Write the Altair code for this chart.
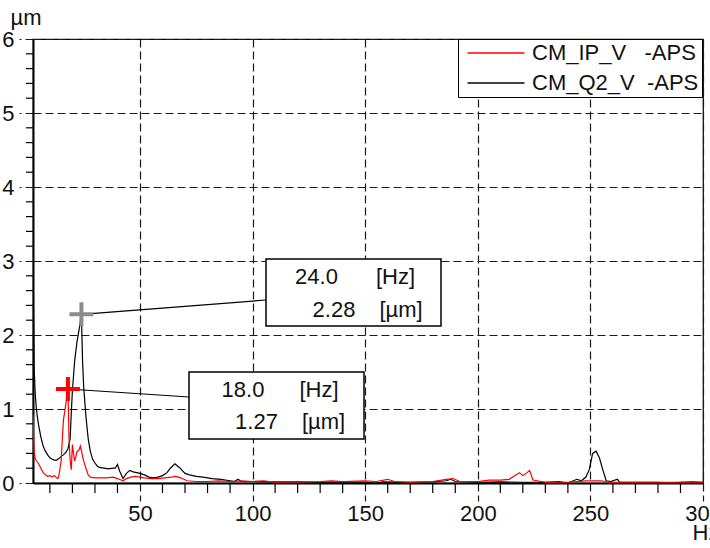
import altair as alt
import pandas as pd

# ---------------- data ----------------
series_names = ["CM_IP_V\u00a0\u00a0\u00a0-APS", "CM_Q2_V\u00a0\u00a0-APS"]
series_colors = ["#ff0000", "#000000"]

freq_ip = [2.5, 3.0, 3.5, 4.0, 5.0, 6.0, 7.0, 8.0, 9.0, 10.0, 11.0, 12.0, 13.0, 13.5, 14.0,
           15.0, 16.0, 17.0, 18.0, 18.5, 19.0, 19.5, 20.0, 20.5, 21.0, 21.5, 22.0, 23.0, 23.5,
           24.0, 24.5, 25.0, 26.0, 27.0, 28.0, 30.0, 32.0, 35.0, 38.0, 40.0, 42.5, 44.0, 46.0,
           48.0, 50.0, 52.0, 55.0, 58.0, 61.0, 64.0, 66.0, 68.0, 71.0, 75.0, 80.0, 85.0, 90.0,
           95.0, 100.0, 105.0, 110.0, 120.0, 130.0, 135.0, 140.0, 150.0, 155.0, 160.0, 163.0,
           170.0, 180.0, 186.0, 189.0, 192.0, 200.0, 205.0, 210.0, 214.0, 216.0, 218.5, 220.0,
           221.5, 223.0, 224.5, 230.0, 240.0, 248.0, 255.0, 258.0, 270.0, 300.0]
amp_ip = [0.92, 0.42, 0.33, 0.30, 0.26, 0.20, 0.14, 0.11, 0.09, 0.10, 0.08, 0.10, 0.07, 0.06, 0.10,
          0.30, 0.85, 1.05, 1.27, 0.60, 0.30, 0.18, 0.52, 0.40, 0.30, 0.35, 0.42, 0.45, 0.50,
          0.44, 0.36, 0.30, 0.20, 0.11, 0.08, 0.07, 0.07, 0.07, 0.08, 0.06, 0.03, 0.06, 0.08,
          0.09, 0.08, 0.07, 0.06, 0.06, 0.07, 0.08, 0.09, 0.07, 0.03, 0.02, 0.02, 0.03, 0.02,
          0.03, 0.02, 0.03, 0.01, 0.015, 0.02, 0.03, 0.02, 0.03, 0.02, 0.05, 0.02,
          0.01, 0.02, 0.05, 0.06, 0.02, 0.02, 0.04, 0.04, 0.05, 0.09, 0.14, 0.10,
          0.13, 0.17, 0.04, 0.01, 0.01, 0.03, 0.03, 0.01, 0.01, 0.01]

freq_q2 = [2.5, 3.0, 3.5, 4.0, 4.5, 5.0, 6.0, 7.0, 8.0, 9.0, 10.0, 11.0, 12.0, 13.0, 14.0, 15.0,
           16.0, 17.0, 18.0, 19.0, 19.5, 20.0, 20.5, 21.0, 22.0, 23.0, 24.0, 24.5, 25.0, 26.0,
           27.0, 28.0, 29.0, 30.0, 31.0, 32.0, 34.0, 36.0, 38.0, 39.0, 40.0, 41.0, 42.5, 44.0,
           45.5, 47.0, 48.5, 50.0, 52.0, 54.0, 56.0, 58.0, 60.0, 62.0, 63.5, 65.5, 67.5, 70.0,
           72.0, 75.0, 78.0, 82.0, 86.0, 90.0, 92.0, 93.5, 95.0, 100.0, 110.0, 120.0, 130.0,
           140.0, 150.0, 155.0, 158.0, 170.0, 180.0, 186.0, 188.0, 190.0, 200.0, 210.0, 220.0,
           230.0, 236.0, 240.0, 244.0, 246.0, 248.0, 249.5, 251.0, 252.5, 254.0, 255.5, 257.0,
           259.0, 262.0, 263.0, 270.0, 280.0, 285.0, 290.0, 295.0, 300.0]
amp_q2 = [3.15, 1.55, 1.20, 1.00, 0.88, 0.78, 0.62, 0.50, 0.43, 0.38, 0.34, 0.32, 0.31, 0.31, 0.33, 0.36,
          0.38, 0.41, 0.46, 0.60, 0.95, 1.25, 1.45, 1.65, 1.90, 2.08, 2.28, 1.65, 1.30, 0.90,
          0.60, 0.42, 0.32, 0.27, 0.23, 0.21, 0.20, 0.19, 0.20, 0.20, 0.25, 0.16, 0.06, 0.13,
          0.17, 0.15, 0.14, 0.13, 0.11, 0.08, 0.07, 0.08, 0.10, 0.14, 0.20, 0.26, 0.21, 0.13,
          0.11, 0.09, 0.08, 0.06, 0.05, 0.03, 0.02, 0.05, 0.02, 0.02, 0.015, 0.015, 0.01,
          0.015, 0.01, 0.0, 0.015, 0.01, 0.015, 0.03, 0.05, 0.02, 0.01, 0.015, 0.01,
          0.01, 0.02, 0.0, 0.05, 0.03, 0.08, 0.18, 0.40, 0.43, 0.34, 0.18, 0.03,
          0.02, 0.05, 0.01, 0.01, 0.01, 0.0, 0.01, 0.015, 0.01]

cursor_freq = [18.0, 24.0]
cursor_amp = [1.27, 2.28]
cursor_colors = ["#ff0000", "#8c8c8c"]

x_ticks = [50, 100, 150, 200, 250, 300]
y_ticks = [0, 1, 2, 3, 4, 5, 6]
x_minor = [10, 20, 30, 40, 60, 70, 80, 90, 110, 120, 130, 140, 160, 170, 180, 190,
           210, 220, 230, 240, 260, 270, 280, 290]
y_minor = [0.2, 0.4, 0.6, 0.8, 1.2, 1.4, 1.6, 1.8, 2.2, 2.4, 2.6, 2.8, 3.2, 3.4, 3.6, 3.8,
           4.2, 4.4, 4.6, 4.8, 5.2, 5.4, 5.6, 5.8]

# ---------------- layout (pixels) ----------------
FONT = "Liberation Sans"
FS = 22
W, H = 670, 444

xs = alt.Scale(domain=[2.5, 300], nice=False, zero=False)
ys = alt.Scale(domain=[0, 6], nice=False, zero=False)
cs = alt.Scale(domain=series_names, range=series_colors)

df_ip = pd.DataFrame({"freq": freq_ip, "amp": amp_ip, "series": series_names[0]})
df_q2 = pd.DataFrame({"freq": freq_q2, "amp": amp_q2, "series": series_names[1]})

x_axis = alt.Axis(values=x_ticks, grid=True, gridDash=[8, 4], gridColor="#1a1a1a", gridWidth=1.2,
                  tickSize=18, tickDash=[8, 4], tickColor="#1a1a1a", tickWidth=1.2,
                  domainColor="black", domainWidth=2, labelFont=FONT, labelFontSize=FS,
                  labelColor="#111", labelPadding=2, labelFlush=False, labelOverlap=False,
                  title="Hz", titleFont=FONT, titleFontSize=FS, titleFontWeight="normal",
                  titleColor="#111", titleX=659, titleY=49, titleAlign="left",
                  titleBaseline="middle", titleAnchor="start")
y_axis = alt.Axis(values=y_ticks, format="d", grid=True, gridDash=[8, 4], gridColor="#1a1a1a",
                  gridWidth=1.2, tickSize=14, tickDash=[8, 4], tickColor="#1a1a1a", tickWidth=1.2,
                  domainColor="black", domainWidth=2, labelFont=FONT, labelFontSize=FS,
                  labelColor="#111", labelPadding=5, labelFlush=False, labelOverlap=False,
                  title="µm", titleAngle=0, titleFont=FONT, titleFontSize=FS,
                  titleFontWeight="normal", titleColor="#111", titleX=-23, titleY=-15,
                  titleAlign="left", titleBaseline="alphabetic", titleAnchor="start")

legend = alt.Legend(title=None, orient="none", legendX=425, legendY=0,
                    symbolType="M-5,0H5", symbolSize=130, symbolStrokeWidth=1.5,
                    labelFont=FONT, labelFontSize=FS, labelColor="#111", labelOffset=25,
                    labelLimit=400, padding=3, rowPadding=8, symbolOffset=24,
                    strokeColor="black", fillColor="white")


def X(field):
    return alt.X(field, scale=xs, axis=x_axis, title="Hz")


def Y(field):
    return alt.Y(field, scale=ys, axis=y_axis, title="µm")


line_q2 = alt.Chart(df_q2).mark_line(strokeWidth=1.2, clip=True).encode(
    x=X("freq:Q"), y=Y("amp:Q"),
    color=alt.Color("series:N", scale=cs, legend=legend),
    order="freq:Q",
)
line_ip = alt.Chart(df_ip).mark_line(strokeWidth=1.2, clip=True).encode(
    x=X("freq:Q"), y=Y("amp:Q"),
    color=alt.Color("series:N", scale=cs, legend=legend),
    order="freq:Q",
)

xminor = alt.Chart(pd.DataFrame({"v": x_minor})).mark_rule(color="black", strokeWidth=1.2).encode(
    x=X("v:Q"), y=alt.value(H), y2=alt.value(H + 10))
yminor = alt.Chart(pd.DataFrame({"v": y_minor})).mark_rule(color="black", strokeWidth=1.2).encode(
    y=Y("v:Q"), x=alt.value(-7), x2=alt.value(0))

# cursor annotation boxes (pixel layout relative to plot origin)
boxes = [
    dict(end=(156, 358), rect=(156, 333, 331, 400), hz=(210, 351), amp=(223.5, 383),
         hzu=(286, 351), ampu=(290.5, 383)),
    dict(end=(233, 261), rect=(233, 220, 408, 287), hz=(283.5, 238), amp=(301, 271),
         hzu=(362.5, 238), ampu=(368, 271)),
]

layers = [line_q2, line_ip, xminor, yminor]
for f, a, col, b in zip(cursor_freq, cursor_amp, cursor_colors, boxes):
    cdf = pd.DataFrame({"freq": [f], "amp": [a], "hz_txt": [f"{f:.1f}"],
                        "amp_txt": [f"{a:.2f}"]})
    base = alt.Chart(cdf)
    layers.append(base.mark_rule(color="black", strokeWidth=1.2).encode(
        x=X("freq:Q"), y=Y("amp:Q"),
        x2=alt.value(b["end"][0]), y2=alt.value(b["end"][1])))
    layers.append(base.mark_point(shape="M-1,0H1M0,-1V1", size=576, filled=False,
                                  strokeWidth=4, color=col, opacity=1).encode(
        x=X("freq:Q"), y=Y("amp:Q")))
    x0, y0, x1, y1 = b["rect"]
    layers.append(base.mark_rect(fill="white", stroke="black", strokeWidth=1.5).encode(
        x=alt.value(x0), x2=alt.value(x1), y=alt.value(y0), y2=alt.value(y1)))
    for key, txt in [("hz", "hz_txt:N"), ("amp", "amp_txt:N")]:
        layers.append(base.mark_text(font=FONT, fontSize=FS, color="#111", align="center",
                                     baseline="middle").encode(
            x=alt.value(b[key][0]), y=alt.value(b[key][1]), text=txt))
    for key, unit in [("hzu", "[Hz]"), ("ampu", "[µm]")]:
        layers.append(base.mark_text(font=FONT, fontSize=FS, color="#111", align="center",
                                     baseline="middle").encode(
            x=alt.value(b[key][0]), y=alt.value(b[key][1]), text=alt.value(unit)))

chart = alt.layer(*layers).properties(
    width=W, height=H,
    padding={"left": 33, "top": 39, "right": 7, "bottom": 65},
    autosize=alt.AutoSizeParams(type="none"),
    background="white",
).configure_view(stroke="black", strokeWidth=1.2)

chart.save("out.html", embed_options={"renderer": "svg", "actions": False})
